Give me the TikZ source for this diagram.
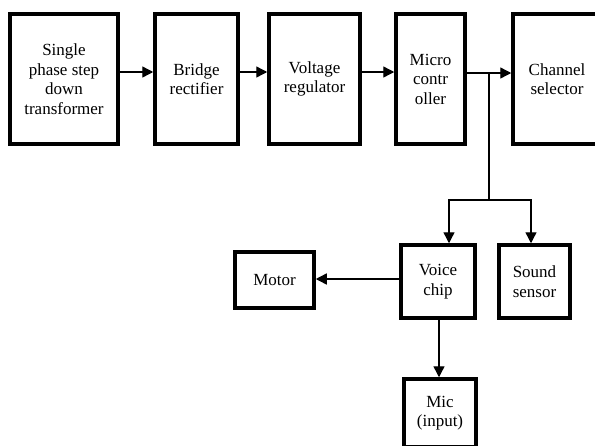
\documentclass[tikz,border=0pt]{standalone}
\usepackage{fontspec}
\setmainfont{Liberation Serif}
\usetikzlibrary{arrows.meta}
\begin{document}
\begin{tikzpicture}[x=1pt,y=-1pt,
  blk/.style={draw, line width=3.5pt, inner sep=0pt, align=center,
    font=\fontsize{17}{19.5}\selectfont},
  link/.style={line width=1.4pt, -{Triangle[length=11pt,width=11pt]}},
  wire/.style={line width=1.4pt}]
\useasboundingbox (0,0) rectangle (595,445);
\clip (0,0) rectangle (595,445);
\fill[white] (0,0) rectangle (595,445);

% power and control chain
\node[blk, minimum width=108pt, minimum height=130pt] (trans) at (64,79)
  {Single\\phase step\\down\\transformer};
\node[blk, minimum width=83pt, minimum height=130pt] (rect) at (196.5,79)
  {Bridge\\rectifier};
\node[blk, minimum width=91pt, minimum height=130pt] (reg) at (314.5,79)
  {Voltage\\regulator};
\node[blk, minimum width=69pt, minimum height=130pt] (mcu) at (430.5,79)
  {Micro\\contr\\oller};
\node[blk, minimum width=88pt, minimum height=130pt] (chan) at (557,79)
  {Channel\\selector};

% lower blocks
\node[blk, minimum width=74pt, minimum height=73pt] (voice) at (438,281.5)
  {Voice\\chip};
\node[blk, minimum width=71pt, minimum height=73pt] (sound) at (534.5,281.5)
  {Sound\\sensor};
\node[blk, minimum width=79pt, minimum height=56pt] (motor) at (274.5,280)
  {Motor};
\node[blk, minimum width=72pt, minimum height=68pt] (mic) at (440,413)
  {Mic\\(input)};

% connectors
\draw[link] ([yshift=7pt]trans.east) -- ([yshift=7pt]rect.west);
\draw[link] ([yshift=7pt]rect.east) -- ([yshift=7pt]reg.west);
\draw[link] ([yshift=7pt]reg.east) -- ([yshift=7pt]mcu.west);
\draw[link] ([yshift=6pt]mcu.east) -- ([yshift=6pt]chan.west);

\coordinate (tap) at (489,73);
\coordinate (split) at (489,200);
\draw[wire] (tap) -- (split);
\draw[link] (split) -| ([xshift=11pt]voice.north);
\draw[link] (split) -| ([xshift=-3.5pt]sound.north);

\coordinate (vout) at ([yshift=2.5pt]voice.west);
\draw[link] (vout) -- (motor.east |- vout);
\coordinate (vdown) at ([xshift=1pt]voice.south);
\draw[link] (vdown) -- (vdown |- mic.north);
\end{tikzpicture}
\end{document}
